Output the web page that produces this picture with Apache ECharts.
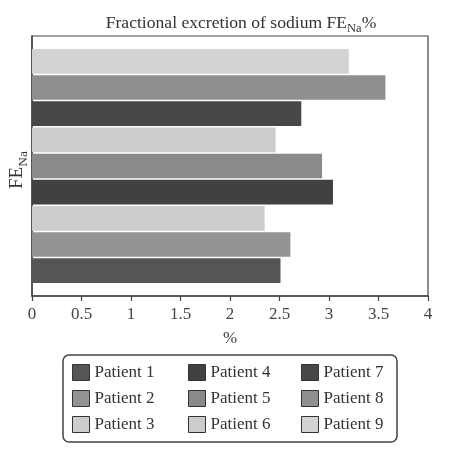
<!DOCTYPE html>
<html>
<head>
<meta charset="utf-8">
<script src="https://cdn.jsdelivr.net/npm/echarts@6/dist/echarts.min.js"></script>
<style>
html,body{margin:0;padding:0;background:#fff;}
#c{width:450px;height:450px;}
</style>
</head>
<body>
<div id="c"></div>
<script>
const categories = [''];
const patients = ['Patient 1','Patient 2','Patient 3','Patient 4','Patient 5','Patient 6','Patient 7','Patient 8','Patient 9'];
const values = [2.51, 2.61, 2.35, 3.04, 2.93, 2.46, 2.72, 3.57, 3.20];
const xTicks = { min: 0, max: 4, interval: 0.5 };

const palette = ['#555555','#939393','#cdcdcd','#414141','#8a8a8a','#cccccc','#474747','#8f8f8f','#d3d3d3'];
const FONT = '"Liberation Serif", "DejaVu Serif", serif';

const chart = echarts.init(document.getElementById('c'), null, {renderer:'canvas'});

// series added last-to-first so Patient 1 sits at the bottom of the band
const series = patients.map((p, i) => ({
  name: p,
  type: 'bar',
  data: [values[i]],
  itemStyle: { color: palette[i] },
  barCategoryGap: '10%',
  barGap: '6%'
})).reverse();

const legendCommon = {
  orient: 'vertical',
  itemWidth: 17,
  itemHeight: 16,
  itemGap: 9,
  icon: 'rect',
  selectedMode: false,
  itemStyle: { borderColor: '#333', borderWidth: 1 },
  textStyle: { fontFamily: FONT, fontSize: 17, color: '#333' },
  padding: 0
};

const richTitle = {
  a: { fontFamily: FONT, fontSize: 17.6, fontWeight: 'normal', color: '#333', lineHeight: 20, verticalAlign: 'bottom' },
  s: { fontFamily: FONT, fontSize: 12.5, fontWeight: 'normal', color: '#333', lineHeight: 12, verticalAlign: 'bottom', padding: [0,0,-3,0] }
};
const richY = {
  a: { fontFamily: FONT, fontSize: 19, fontWeight: 'normal', color: '#333', lineHeight: 20, verticalAlign: 'bottom' },
  s: { fontFamily: FONT, fontSize: 13.5, fontWeight: 'normal', color: '#333', lineHeight: 13, verticalAlign: 'bottom', padding: [0,0,-3,0] }
};

chart.setOption({
  animation: false,
  title: {
    text: '{a|Fractional excretion of sodium FE}{s|Na}{a|%}',
    left: 236,
    textAlign: 'center',
    top: 7,
    textStyle: { fontWeight: 'normal', rich: richTitle }
  },
  grid: {
    left: 32, right: 22, top: 36, bottom: 154,
    outerBoundsMode: 'none',
    containLabel: false,
    show: true, borderColor: '#444', borderWidth: 1.2, backgroundColor: 'transparent'
  },
  xAxis: {
    type: 'value',
    min: xTicks.min, max: xTicks.max, interval: xTicks.interval,
    name: '%',
    nameLocation: 'middle',
    nameGap: 34,
    nameTextStyle: { fontFamily: FONT, fontSize: 17, color: '#444' },
    axisLine: { show: true, lineStyle: { color: '#444', width: 1.5 } },
    axisTick: { show: true, inside: false, length: 5, lineStyle: { color: '#444', width: 1.2 } },
    axisLabel: { fontFamily: FONT, fontSize: 17, color: '#444', margin: 10 },
    splitLine: { show: false }
  },
  yAxis: {
    type: 'category',
    data: categories,
    name: '{a|FE}{s|Na}',
    nameLocation: 'middle',
    nameGap: 5,
    nameRotate: 90,
    nameTextStyle: { rich: richY, padding: [0, 8, 0, 0] },
    axisLine: { show: true, lineStyle: { color: '#444', width: 1.5 } },
    axisTick: { show: false },
    axisLabel: { show: false },
    splitLine: { show: false }
  },
  legend: [
    Object.assign({}, legendCommon, { data: patients.slice(0,3), left: 72, top: 364 }),
    Object.assign({}, legendCommon, { data: patients.slice(3,6), left: 188, top: 364 }),
    Object.assign({}, legendCommon, { data: patients.slice(6,9), left: 301, top: 364 })
  ],
  graphic: [{
    type: 'rect',
    shape: { x: 63, y: 355, width: 334, height: 87, r: 6 },
    style: { fill: 'none', stroke: '#444', lineWidth: 1.5 },
    silent: true
  }],
  series: series
});
</script>
</body>
</html>
